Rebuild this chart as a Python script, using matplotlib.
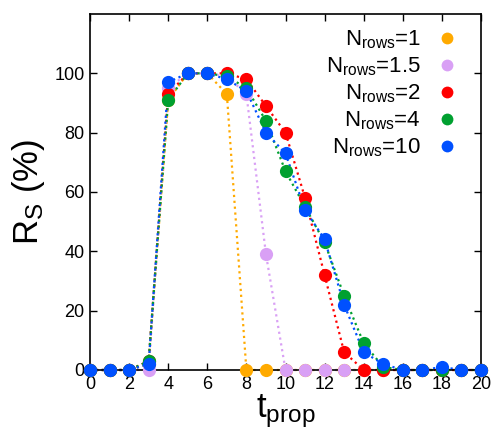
import numpy as np
import matplotlib
matplotlib.use("Agg")
import matplotlib.pyplot as plt
from matplotlib.lines import Line2D

plt.rcParams['font.family'] = ['Liberation Sans', 'DejaVu Sans']
plt.rcParams['mathtext.fontset'] = 'custom'
plt.rcParams['mathtext.rm'] = 'Liberation Sans'
plt.rcParams['mathtext.it'] = 'Liberation Sans'

# propagation time steps
t_prop = np.arange(0, 21)

# R_S (%) for each N_rows
rs_1 = [0, 0, 0, 2, 91, 100, 100, 93, 0, 0, 0, 0, 0, 0, 0, 0, 0, 0, 0, 0, 0]
rs_1p5 = [0, 0, 0, 0, 95, 100, 100, 99, 93, 39, 0, 0, 0, 0, 0, 0, 0, 0, 0, 0, 0]
rs_2 = [0, 0, 0, 3, 93, 100, 100, 100, 98, 89, 80, 58, 32, 6, 0, 0, 0, 0, 0, 0, 0]
rs_4 = [0, 0, 0, 3, 91, 100, 100, 99, 95, 84, 67, 55, 43, 25, 9, 1, 0, 0, 0, 0, 0]
rs_10 = [0, 0, 0, 2, 97, 100, 100, 98, 94, 80, 73, 54, 44, 22, 6, 2, 0, 0, 1, 0, 0]

labels = [r'N$_\mathrm{rows}$=1', r'N$_\mathrm{rows}$=1.5', r'N$_\mathrm{rows}$=2',
          r'N$_\mathrm{rows}$=4', r'N$_\mathrm{rows}$=10']
colors = ['#FFAA00', '#D9A0F5', '#FF0000', '#00A030', '#0050FF']
series = [rs_1, rs_1p5, rs_2, rs_4, rs_10]

fig = plt.figure(figsize=(4.95, 4.32), dpi=100)
ax = fig.add_axes([90 / 495, 1 - 370 / 432, 391 / 495, 356 / 432])

for ys, c in zip(series, colors):
    ax.plot(t_prop, ys, linestyle=':', color=c, linewidth=1.6, clip_on=False)
    ax.plot(t_prop, ys, linestyle='none', marker='o', color=c,
            markersize=9.5, markeredgewidth=0, clip_on=False, zorder=3)

ax.set_xlim(0, 20)
ax.set_ylim(0, 120)
ax.set_xticks(np.arange(0, 21, 2))
ax.set_yticks(np.arange(0, 101, 20))
ax.tick_params(direction='in', top=True, right=True, length=5, width=1,
               labelsize=13, pad=4)
for s in ax.spines.values():
    s.set_linewidth(1.2)

ax.set_xlabel(r'$\mathregular{t_{prop}}$', fontsize=25, labelpad=0)
ax.set_ylabel(r'$\mathregular{R_S}$ (%)', fontsize=25, labelpad=5)

handles = [Line2D([], [], linestyle='none', marker='o', color=c,
                  markersize=8.5, markeredgewidth=0) for c in colors]
ax.legend(handles, labels, loc='upper right', bbox_to_anchor=(0.985, 1.0),
          frameon=False, markerfirst=False,
          fontsize=16, handletextpad=0.6, labelspacing=0.2,
          borderaxespad=0.25, handlelength=1.2)

fig.savefig('out.png', dpi=100)
